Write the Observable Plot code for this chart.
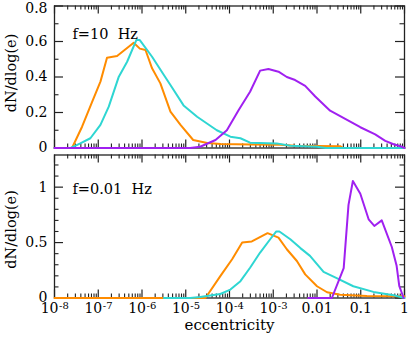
<!DOCTYPE html>
<html><head><meta charset="utf-8">
<script src="https://cdn.jsdelivr.net/npm/d3@7"></script>
<script src="https://cdn.jsdelivr.net/npm/@observablehq/plot@0.6"></script>
<style>
body{margin:0;background:#fff;}
#chart{position:relative;width:409px;height:337px;overflow:hidden;background:#fff;}
#chart svg{position:absolute;left:0;overflow:visible;}
</style></head><body><div id="chart"></div>
<script>
// log10(eccentricity) and dN/dlog(e)
const topOrangeLogE = [-8,-7.6,-7.37,-7.14,-6.95,-6.80,-6.57,-6.19,-6.05,-5.92,-5.77,-5.58,-5.35,-5.12,-4.83,-4.51,-4.2,-3.5,-2.84,-2.5,-1.47,-1.4,0];
const topOrangeVal  = [0,0,0.12,0.26,0.374,0.509,0.518,0.593,0.56,0.552,0.449,0.364,0.205,0.13,0.045,0.028,0.022,0.02,0.018,0.012,0.01,0,0];
const topCyanLogE = [-8,-7.63,-7.41,-7.18,-6.95,-6.76,-6.53,-6.34,-6.13,-6.05,-5.77,-5.50,-5.35,-5.05,-4.74,-4.29,-3.98,-3.75,-3.53,-2.92,-2.61,-2.0,-1.8,0];
const topCyanVal  = [0,0,0.026,0.055,0.13,0.233,0.402,0.486,0.608,0.608,0.514,0.411,0.355,0.24,0.176,0.10,0.064,0.055,0.03,0.026,0.013,0.007,0,0];
const topPurpleLogE = [-8,-4.9,-4.67,-4.32,-4.06,-3.79,-3.53,-3.30,-3.11,-2.88,-2.69,-2.50,-2.27,-2.04,-1.70,-1.47,-1.01,-0.67,-0.44,-0.25,-0.06,0];
const topPurpleVal  = [0,0,0.007,0.045,0.10,0.214,0.317,0.436,0.445,0.43,0.40,0.383,0.35,0.29,0.21,0.18,0.117,0.077,0.04,0.021,0.007,0];

const botOrangeLogE = [-8,-4.55,-4.21,-3.94,-3.71,-3.49,-3.13,-2.88,-2.69,-2.46,-2.27,-2.0,-1.77,-1.47,-0.86,0];
const botOrangeVal  = [0,0,0.197,0.35,0.50,0.51,0.585,0.545,0.44,0.334,0.213,0.106,0.052,0.03,0.018,0.015];
const botCyanLogE = [-5.5,-4.9,-4.67,-4.21,-3.98,-3.75,-3.53,-3.30,-3.07,-2.93,-2.86,-2.61,-2.38,-2.16,-1.85,-1.55,-1.17,-0.71,-0.25,0];
const botCyanVal  = [0,0,0.008,0.036,0.076,0.152,0.273,0.41,0.53,0.60,0.60,0.53,0.45,0.38,0.235,0.18,0.106,0.055,0.025,0];
const botPurpleLogE = [-2.2,-1.66,-1.39,-1.28,-1.18,-1.01,-0.82,-0.69,-0.52,-0.29,-0.18,-0.12,-0.02];
const botPurpleVal  = [0,0,0.27,0.84,1.055,0.94,0.71,0.65,0.70,0.46,0.29,0.11,0];

const xMajorExp = [-8,-7,-6,-5,-4,-3,-2,-1,0];
const xPowExp = [-8,-7,-6,-5,-4,-3];          // labelled as 10^k
const xPowBase = "10";
const xPowSup = ["-8","-7","-6","-5","-4","-3"];
const xDecExp = [-2,-1,0];                    // labelled as decimals
const xDecLabels = ["0.01","0.1","1"];
const topYMajor = [0,0.2,0.4,0.6,0.8];
const topYMinor = [0.1,0.3,0.5,0.7];
const topYLabels = ["0","0.2","0.4","0.6","0.8"];
const botYMajor = [0,0.5,1];
const botYMinor = [0.1,0.2,0.3,0.4,0.6,0.7,0.8,0.9,1.1,1.2];
const botYLabels = ["0","0.5","1"];
const panelLabels = ["f=10  Hz","f=0.01  Hz"];
const yLabel = "dN/dlog(e)";
const xLabel = "eccentricity";

const COL = {orange:"#ff8c00", cyan:"#2ed6d2", purple:"#a020f0"};
const FONT = "DejaVu Serif, serif";
const toRows = (xs, ys) => xs.map((v,i)=>({e: 10**v, v: ys[i]}));
const xMajor = xMajorExp.map(k=>10**k);
const xMinor = [];
for (const k of xMajorExp.slice(0,-1)) for (let m=2;m<=9;m++) xMinor.push(m*10**k);

const W = 409, ML = 54, MR = 5;
const frameW = W - ML - MR;
const INK = "#222";

function panel({height, mt, mb, yDomain, yMajor, yMinor, yLabels, series, label, labelDy, yLabelDy, bottomAxis}) {
  const fh = height - mt - mb;
  const yRows = yMajor.map((d,i)=>({y:d, t:yLabels[i]}));
  const atTop = yRows.filter(r => r.y === yDomain[1]);
  const inside = yRows.filter(r => r.y !== yDomain[1]);
  const marks = [
    Plot.frame({stroke:INK, strokeWidth:1.3}),
    Plot.tickX(xMajor, {x:d=>d, insetTop: fh-8, stroke:INK, strokeWidth:1.2}),
    Plot.tickX(xMinor, {x:d=>d, insetTop: fh-4, stroke:INK, strokeWidth:1.1}),
    Plot.tickX(xMajor, {x:d=>d, insetBottom: fh-8, stroke:INK, strokeWidth:1.2}),
    Plot.tickX(xMinor, {x:d=>d, insetBottom: fh-4, stroke:INK, strokeWidth:1.1}),
    Plot.tickY(yMajor, {y:d=>d, insetRight: frameW-9, stroke:INK, strokeWidth:1.2}),
    Plot.tickY(yMinor, {y:d=>d, insetRight: frameW-4.5, stroke:INK, strokeWidth:1.1}),
    Plot.tickY(yMajor, {y:d=>d, insetLeft: frameW-9, stroke:INK, strokeWidth:1.2}),
    Plot.tickY(yMinor, {y:d=>d, insetLeft: frameW-4.5, stroke:INK, strokeWidth:1.1}),
    Plot.text(inside, {y:"y", frameAnchor:"left", dx:-7, textAnchor:"end", text:"t", fontSize:14, fill:"#000"}),
    Plot.text(atTop, {y:"y", frameAnchor:"left", dx:-7, dy:2.5, textAnchor:"end", text:"t", fontSize:14, fill:"#000"}),
    ...series.map(s => Plot.line(s.rows, {x:"e", y:"v", stroke:s.color, strokeWidth:2, curve:"linear"})),
    Plot.text([label], {frameAnchor:"top-left", dx:18, dy:labelDy, text:d=>d, textAnchor:"start", fontSize:14.5, fill:"#000", style:"white-space:pre"}),
    Plot.text([yLabel], {frameAnchor:"left", dx:-43, dy:yLabelDy, rotate:-90, textAnchor:"middle", text:d=>d, fontSize:14.5, fill:"#000"})
  ];
  if (bottomAxis) {
    marks.push(Plot.text(xPowExp, {x:d=>10**d, frameAnchor:"bottom", dx:4, dy:15, textAnchor:"end", text:()=>xPowBase, fontSize:14, fill:"#000"}));
    marks.push(Plot.text(xPowExp, {x:d=>10**d, frameAnchor:"bottom", dx:4.5, dy:11, textAnchor:"start", text:(d,i)=>xPowSup[i], fontSize:10, fill:"#000"}));
    marks.push(Plot.text(xDecExp, {x:d=>10**d, frameAnchor:"bottom", dy:15, textAnchor:"middle", text:(d,i)=>xDecLabels[i], fontSize:14, fill:"#000"}));
    marks.push(Plot.text([xLabel], {frameAnchor:"bottom", dy:32, textAnchor:"middle", text:d=>d, fontSize:15, fill:"#000"}));
  }
  return Plot.plot({
    width: W, height,
    marginLeft: ML, marginRight: MR, marginTop: mt, marginBottom: mb,
    style: {fontFamily: FONT, background: "transparent", overflow:"visible"},
    x: {type:"log", domain:[1e-8,1], axis:null},
    y: {domain: yDomain, axis:null},
    marks
  });
}

const topPanel = panel({
  height:151, mt:5.5, mb:3.5, yDomain:[0,0.8], yMajor:topYMajor, yMinor:topYMinor, yLabels:topYLabels,
  series:[
    {rows: toRows(topOrangeLogE, topOrangeVal), color: COL.orange},
    {rows: toRows(topCyanLogE, topCyanVal), color: COL.cyan},
    {rows: toRows(topPurpleLogE, topPurpleVal), color: COL.purple}
  ],
  label: panelLabels[0], labelDy: 23, yLabelDy: -4, bottomAxis:false
});
const botPanel = panel({
  height:186, mt:3.5, mb:39.5, yDomain:[0,1.29], yMajor:botYMajor, yMinor:botYMinor, yLabels:botYLabels,
  series:[
    {rows: toRows(botOrangeLogE, botOrangeVal), color: COL.orange},
    {rows: toRows(botCyanLogE, botCyanVal), color: COL.cyan},
    {rows: toRows(botPurpleLogE, botPurpleVal), color: COL.purple}
  ],
  label: panelLabels[1], labelDy: 29, yLabelDy: 3, bottomAxis:true
});
topPanel.style.top = "0px";
botPanel.style.top = "151px";
const chartDiv = document.getElementById("chart");
chartDiv.appendChild(topPanel);
chartDiv.appendChild(botPanel);
</script></body></html>
